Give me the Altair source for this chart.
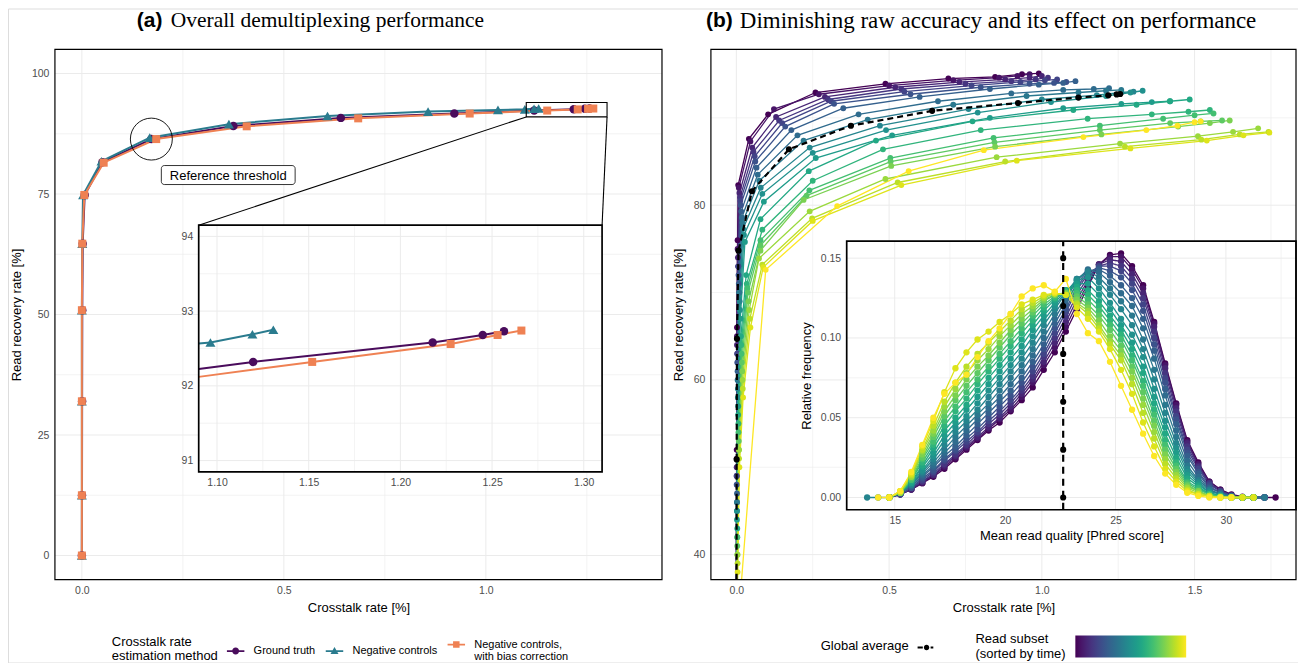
import altair as alt
import pandas as pd

SANS = "Liberation Sans"
SERIF = "Liberation Serif"

# ================= panel (a): overall demultiplexing performance =================
METHODS = ["Ground truth", "Negative controls", "Negative controls, with bias correction"]
METHOD_COLORS = ["#4A0C5C", "#2A7B8E", "#EF8153"]

gt_x = [0.0, 0.0003, 0.0006, 0.001, 0.002, 0.007, 0.051, 0.172, 0.375, 0.641, 0.922, 1.1197, 1.2176, 1.2449, 1.2565]
gt_y = [0.0, 12.5, 32.0, 50.9, 64.7, 74.8, 81.6, 86.4, 89.1, 90.8, 91.7, 92.32, 92.58, 92.68, 92.73]
nc_x = [0.0, 0.0, 0.0, 0.0, 0.001, 0.003, 0.0486, 0.168, 0.364, 0.608, 0.857, 1.03, 1.0964, 1.1193, 1.1307]
nc_y = [0.0, 12.5, 32.0, 50.9, 64.7, 74.8, 81.8, 86.7, 89.5, 91.2, 92.1, 92.45, 92.58, 92.69, 92.75]
bc_x = [0.0, 0.0, 0.0, 0.0, 0.001, 0.006, 0.054, 0.184, 0.408, 0.684, 0.960, 1.1519, 1.2274, 1.253, 1.266]
bc_y = [0.0, 12.5, 32.0, 50.9, 64.7, 74.8, 81.5, 86.4, 89.05, 90.7, 91.7, 92.32, 92.56, 92.68, 92.74]
REF_INDEX = 7
REF_LABEL = "Reference threshold"
ZOOM_X = [1.10, 1.30]
ZOOM_Y = [91.0, 94.0]

# ================= panel (b): per read subset =================
s01_x = [0, 0, 0, 0.001, 0.002, 0.004, 0.006, 0.041, 0.104, 0.259, 0.488, 0.694, 0.847, 0.935, 0.990]
s01_y = [0, 13, 33, 52, 66, 76, 82.3, 87.6, 90.4, 92.9, 93.9, 94.5, 94.7, 95.0, 95.1]
s02_x = [0, 0, 0, 0.001, 0.002, 0.004, 0.008, 0.046, 0.123, 0.270, 0.500, 0.710, 0.860, 0.920, 0.960]
s02_y = [0, 12, 32, 51, 65, 75, 82.0, 87.3, 91.0, 92.7, 93.7, 94.3, 94.6, 94.8, 95.0]
s03_x = [0, 0, 0, 0.001, 0.002, 0.005, 0.010, 0.052, 0.130, 0.290, 0.520, 0.730, 0.880, 0.960, 1.000]
s03_y = [0, 12, 31, 50, 64, 74, 81.4, 86.6, 90.1, 92.4, 93.5, 94.1, 94.4, 94.6, 94.8]
s04_x = [0, 0, 0, 0.001, 0.003, 0.006, 0.012, 0.056, 0.140, 0.300, 0.540, 0.750, 0.900, 0.980, 1.020]
s04_y = [0, 12, 30, 49, 63, 73, 80.9, 86.1, 89.7, 92.1, 93.3, 93.9, 94.2, 94.4, 94.6]
s05_x = [0, 0, 0, 0.001, 0.003, 0.006, 0.013, 0.060, 0.150, 0.310, 0.550, 0.770, 0.930, 1.010, 1.050]
s05_y = [0, 12, 30, 49, 63, 73, 80.5, 85.6, 89.4, 91.9, 93.0, 93.7, 94.1, 94.3, 94.4]
s06_x = [0, 0, 0, 0.001, 0.003, 0.007, 0.014, 0.062, 0.160, 0.320, 0.570, 0.800, 0.960, 1.040, 1.080]
s06_y = [0, 11, 29, 48, 62, 72, 80.0, 85.0, 89.0, 91.6, 92.7, 93.5, 93.9, 94.0, 94.1]
s07_x = [0, 0, 0, 0.002, 0.004, 0.008, 0.016, 0.066, 0.180, 0.350, 0.600, 0.830, 0.990, 1.070, 1.110]
s07_y = [0, 11, 29, 47, 61, 71, 79.3, 84.3, 88.6, 91.1, 92.4, 93.3, 93.8, 94.0, 94.2]
s08_x = [0, 0, 0, 0.002, 0.004, 0.009, 0.018, 0.070, 0.200, 0.400, 0.660, 0.900, 1.070, 1.170, 1.220]
s08_y = [0, 11, 28, 46, 60, 70, 78.6, 83.5, 88.0, 90.4, 91.9, 92.8, 93.2, 93.3, 93.4]
s09_x = [0, 0, 0, 0.002, 0.005, 0.010, 0.020, 0.075, 0.220, 0.430, 0.710, 0.950, 1.120, 1.210, 1.260]
s09_y = [0, 10, 28, 46, 60, 70, 78.0, 82.8, 87.4, 89.8, 91.5, 92.5, 92.9, 93.1, 93.2]
s10_x = [0, 0, 0, 0.002, 0.005, 0.011, 0.022, 0.080, 0.240, 0.470, 0.760, 1.000, 1.180, 1.260, 1.300]
s10_y = [0, 10, 27, 45, 59, 69, 77.3, 82.0, 86.6, 89.1, 91.0, 92.1, 92.6, 92.9, 93.0]
s11_x = [0, 0, 0, 0.002, 0.005, 0.012, 0.025, 0.085, 0.250, 0.490, 0.790, 1.030, 1.210, 1.290, 1.330]
s11_y = [0, 10, 27, 45, 58, 68, 76.6, 81.3, 86.0, 88.6, 90.6, 91.8, 92.5, 92.9, 93.1]
s12_x = [0, 0, 0, 0.002, 0.006, 0.013, 0.028, 0.090, 0.260, 0.510, 0.830, 1.070, 1.260, 1.360, 1.420]
s12_y = [0, 10, 26, 44, 57, 67, 75.8, 80.4, 85.4, 88.0, 90.0, 91.1, 91.6, 91.8, 91.9]
s13_x = [0, 0, 0, 0.003, 0.006, 0.015, 0.032, 0.079, 0.237, 0.457, 0.773, 1.103, 1.310, 1.419, 1.484]
s13_y = [0, 9, 25, 43, 56, 65, 72.0, 78.4, 83.9, 87.4, 89.6, 90.9, 91.5, 91.9, 92.1]
s14_x = [0, 0, 0, 0.003, 0.007, 0.016, 0.034, 0.085, 0.250, 0.480, 0.800, 1.150, 1.360, 1.480, 1.550]
s14_y = [0, 9, 24, 42, 55, 64, 71.0, 77.2, 82.8, 86.4, 88.6, 89.9, 90.4, 90.7, 90.9]
s15_x = [0, 0, 0, 0.003, 0.007, 0.017, 0.036, 0.079, 0.239, 0.504, 0.842, 1.190, 1.397, 1.500, 1.562]
s15_y = [0, 9, 24, 42, 54, 63, 70.5, 76.0, 81.7, 85.4, 87.7, 89.1, 89.9, 90.3, 90.5]
s16_x = [0, 0, 0, 0.003, 0.008, 0.018, 0.038, 0.079, 0.230, 0.505, 0.845, 1.190, 1.420, 1.520, 1.590]
s16_y = [0, 8, 23, 41, 53, 62, 70.0, 75.4, 81.1, 85.0, 87.2, 88.6, 89.4, 89.6, 89.7]
s17_x = [0, 0, 0, 0.003, 0.008, 0.019, 0.040, 0.079, 0.220, 0.507, 0.847, 1.195, 1.446, 1.550, 1.615]
s17_y = [0, 8, 23, 40, 52, 61, 69.0, 74.8, 80.6, 84.5, 86.7, 88.1, 89.0, 89.4, 89.7]
s18_x = [0, 0, 0, 0.004, 0.009, 0.020, 0.042, 0.074, 0.240, 0.488, 0.852, 1.256, 1.511, 1.626, 1.708]
s18_y = [0, 8, 22, 40, 52, 60, 68.0, 73.9, 79.3, 83.0, 85.5, 87.05, 87.9, 88.4, 88.8]
s19_x = [0, 0, 0, 0.004, 0.009, 0.021, 0.044, 0.085, 0.248, 0.528, 0.880, 1.272, 1.522, 1.648, 1.742]
s19_y = [0, 7, 21, 39, 51, 59, 67.0, 73.2, 78.5, 82.6, 85.0, 86.7, 87.5, 88.1, 88.4]
s20_x = [0, 0, 0, 0.004, 0.010, 0.022, 0.046, 0.088, 0.250, 0.540, 0.918, 1.290, 1.540, 1.660, 1.745]
s20_y = [0, 7, 21, 38, 50, 58, 66.0, 72.9, 78.2, 82.3, 85.1, 86.5, 87.4, 88.0, 88.3]
s21_x = [0, 0.001, 0.002, 0.004, 0.006, 0.008, 0.096, 0.330, 0.564, 0.810, 1.136, 1.342, 1.444, 1.500, 1.520]
s21_y = [0, 6, 14, 22, 28, 33, 72.6, 79.9, 83.9, 86.3, 87.8, 88.6, 89.1, 89.5, 89.6]

# inset (b): read-quality histograms (bin centres, Phred)
QBINS = [13.75, 14.25, 14.75, 15.25, 15.75, 16.25, 16.75, 17.25, 17.75, 18.25, 18.75, 19.25, 19.75,
         20.25, 20.75, 21.25, 21.75, 22.25, 22.75, 23.25, 23.75, 24.25, 24.75, 25.25, 25.75, 26.25,
         26.75, 27.25, 27.75, 28.25, 28.75, 29.25, 29.75, 30.25, 30.75, 31.25, 31.75, 32.25]
q01 = [.002, .005, .009, .013, .018, .024, .030, .036, .042, .047, .054, .061, .069, .080, .091, .104, .118, .132, .146, .152, .153, .145, .133, .110, .084, .059, .036, .022, .010, .005, .002, .0005, 0, 0, 0]
q02 = [0, .002, .005, .009, .014, .019, .025, .031, .037, .043, .049, .055, .063, .072, .083, .094, .107, .121, .134, .146, .151, .151, .143, .131, .109, .083, .058, .035, .021, .010, .005, .0015, 0, 0, 0]
q03 = [0, .002, .005, .010, .014, .020, .026, .032, .038, .044, .050, .057, .065, .074, .085, .097, .110, .124, .136, .146, .149, .148, .140, .128, .107, .081, .056, .034, .020, .009, .004, .0015, 0, 0, 0]
q04 = [0, .002, .006, .010, .015, .021, .027, .033, .040, .046, .052, .059, .067, .076, .088, .100, .113, .127, .138, .145, .147, .145, .137, .125, .104, .078, .054, .032, .019, .009, .004, .001, 0, 0, 0]
q05 = [0, .002, .006, .011, .016, .023, .029, .035, .041, .048, .054, .061, .069, .079, .090, .103, .116, .130, .140, .145, .145, .142, .134, .121, .100, .075, .051, .030, .018, .008, .004, .001, 0, 0, 0]
q06 = [0, .002, .006, .012, .017, .024, .030, .037, .043, .050, .057, .064, .072, .082, .093, .106, .118, .132, .141, .144, .142, .138, .130, .117, .096, .072, .049, .028, .016, .007, .003, .001, 0, 0, 0]
q07 = [0, .003, .007, .013, .019, .026, .032, .039, .046, .053, .060, .067, .075, .085, .096, .109, .121, .134, .142, .143, .139, .133, .125, .112, .092, .068, .046, .026, .015, .006, .003, .001, 0, 0, 0]
q08 = [0, .003, .007, .014, .020, .028, .035, .042, .049, .056, .063, .071, .079, .089, .100, .112, .124, .136, .143, .141, .135, .128, .120, .106, .087, .064, .042, .023, .013, .005, .002, .0005, 0, 0, 0]
q09 = [0, .003, .008, .015, .022, .030, .038, .045, .052, .059, .067, .075, .083, .093, .104, .115, .126, .137, .142, .138, .131, .123, .114, .099, .080, .058, .038, .020, .011, .005, .002, .0005, 0, 0, 0]
q10 = [0, 0, 0, .003, .008, .016, .024, .033, .041, .048, .055, .063, .071, .079, .087, .097, .108, .118, .128, .137, .141, .135, .127, .118, .108, .093, .074, .053, .034, .018, .010, .004, .002, .0005, 0, 0]
q11 = [0, .003, .009, .017, .026, .036, .044, .051, .059, .067, .075, .083, .091, .101, .111, .120, .129, .136, .138, .131, .122, .112, .102, .088, .068, .048, .031, .016, .009, .003, .001, 0, 0, 0]
q12 = [0, .003, .009, .019, .028, .039, .047, .055, .063, .071, .079, .087, .095, .105, .114, .122, .130, .134, .134, .127, .118, .108, .097, .082, .063, .044, .028, .014, .008, .003, .001, 0, 0, 0]
q13 = [0, .003, .010, .020, .031, .042, .050, .058, .067, .075, .083, .091, .099, .108, .117, .124, .130, .132, .130, .123, .114, .105, .093, .078, .059, .040, .025, .012, .007, .002, .001, 0, 0, 0]
q14 = [0, .003, .011, .022, .033, .045, .054, .062, .071, .079, .087, .095, .103, .111, .119, .125, .129, .130, .127, .120, .111, .102, .089, .073, .055, .036, .022, .010, .006, .002, .001, 0, 0, 0]
q15 = [0, .003, .011, .024, .035, .048, .057, .066, .074, .082, .090, .098, .106, .114, .121, .126, .129, .128, .124, .117, .108, .099, .086, .070, .052, .033, .020, .009, .005, .002, .0005, 0, 0, 0]
q16 = [0, .003, .012, .025, .038, .051, .061, .070, .078, .086, .094, .102, .109, .116, .123, .127, .128, .126, .121, .114, .105, .095, .082, .066, .048, .030, .018, .008, .004, .001, .0005, 0, 0, 0]
q17 = [0, .003, .013, .027, .040, .054, .064, .074, .082, .089, .097, .105, .112, .118, .124, .127, .128, .124, .119, .111, .101, .092, .079, .062, .045, .027, .016, .007, .004, .001, 0, 0, 0, 0]
q18 = [0, .003, .013, .029, .042, .057, .068, .078, .086, .093, .101, .108, .115, .120, .125, .128, .127, .122, .117, .108, .098, .089, .075, .058, .041, .024, .014, .006, .003, .001, 0, 0, 0, 0]
q19 = [0, .004, .014, .030, .045, .060, .072, .082, .090, .097, .104, .111, .118, .122, .126, .128, .127, .121, .115, .106, .096, .086, .071, .053, .037, .021, .012, .005, .002, .001, 0, 0, 0, 0]
q20 = [0, .004, .015, .032, .048, .066, .081, .091, .099, .104, .110, .115, .121, .124, .127, .128, .127, .119, .112, .104, .093, .080, .065, .047, .032, .018, .010, .004, .002, .0005, 0, 0, 0, 0]
q21 = [0, 0, .004, .016, .033, .050, .065, .072, .077, .088, .098, .106, .115, .126, .131, .133, .129, .137, .115, .103, .098, .085, .070, .055, .040, .026, .015, .008, .003, .001, 0, 0, 0]
Q_START = [15.25, 14.75, 14.75, 14.75, 14.75, 14.75, 14.75, 14.75, 14.75, 13.75, 14.75,
           14.75, 14.75, 14.75, 14.75, 14.75, 14.75, 14.75, 14.75, 14.75, 14.25]
GA_QUALITY = 22.63
GA_QUALITY_MARKS = [0.0, 0.03, 0.06, 0.09, 0.12, 0.15]

# tick values (major / minor grid)
A_XT, A_XM = [0.0, 0.5, 1.0], [0.25, 0.75, 1.25]
A_YT, A_YM = [0, 25, 50, 75, 100], [12.5, 37.5, 62.5, 87.5]
AI_XT, AI_XM = [1.10, 1.15, 1.20, 1.25, 1.30], [1.125, 1.175, 1.225, 1.275]
AI_YT, AI_YM = [91, 92, 93, 94], [91.5, 92.5, 93.5]
B_XT, B_XM = [0.0, 0.5, 1.0, 1.5], [0.25, 0.75, 1.25, 1.75]
B_YT, B_YM = [40, 60, 80], [50, 70, 90]
BI_XT, BI_XM = [15, 20, 25, 30], [17.5, 22.5, 27.5, 32.5]
BI_YT, BI_YM = [0.0, 0.05, 0.10, 0.15], [0.025, 0.075, 0.125]

# ================= layout (pixels inside the canvas) =================
W, H = 1292, 655


def panel(x0, x1, y0, y1, xd, yd):
    return dict(x0=x0, x1=x1, y0=y0, y1=y1, xd=xd, yd=yd)


PA = panel(47, 655, 41, 572, [-0.0667, 1.436], [-5.0, 105.0])
PAI = panel(191, 595, 217, 464, [1.09, 1.31], [90.85, 94.15])
PB = panel(704, 1290, 41, 572, [-0.0833, 1.832], [37.14, 97.83])
PBI = panel(840, 1290, 233, 502, [12.825, 33.175], [-0.00765, 0.16065])
GRID = "#EBEBEB"


def sx(P):
    return alt.Scale(domain=P["xd"], range=[P["x0"], P["x1"]], nice=False, zero=False)


def sy(P):
    return alt.Scale(domain=P["yd"], range=[P["y1"], P["y0"]], nice=False, zero=False)


def XY(P, xf="x", yf="y"):
    return dict(x=alt.X(f"{xf}:Q", scale=sx(P), axis=None), y=alt.Y(f"{yf}:Q", scale=sy(P), axis=None))


AX = dict(grid=False, domain=False, ticks=False, labelPadding=6, labelFontSize=10.5, labelColor="#4D4D4D",
          labelFont=SANS, titleFont=SANS, titleFontSize=13, titleColor="black", titleFontWeight="normal",
          labelFlush=False, labelOverlap=False)


def x_axis(P, values, fmt, title, tpad=4, z=0):
    return alt.Axis(orient="bottom", offset=P["y1"] - H, values=values, format=fmt, title=title,
                    titlePadding=tpad, zindex=z, **AX)


def y_axis(P, values, fmt, title, tpad=6, z=0):
    return alt.Axis(orient="left", offset=-P["x0"], values=values, format=fmt, title=title,
                    titlePadding=tpad, zindex=z, **AX)


def grid(P, xt, xm, yt, ym, xax, yax):
    out = []
    for vals, w, ax in [(xt, 1.0, xax), (xm, 0.6, None)]:
        d = pd.DataFrame({"v": vals, "a": P["yd"][0], "b": P["yd"][1]})
        out.append(alt.Chart(d).mark_rule(color=GRID, strokeWidth=w).encode(
            x=alt.X("v:Q", scale=sx(P), axis=ax), y=alt.Y("a:Q", scale=sy(P), axis=None), y2="b:Q"))
    for vals, w, ax in [(yt, 1.0, yax), (ym, 0.6, None)]:
        d = pd.DataFrame({"v": vals, "a": P["xd"][0], "b": P["xd"][1]})
        out.append(alt.Chart(d).mark_rule(color=GRID, strokeWidth=w).encode(
            y=alt.Y("v:Q", scale=sy(P), axis=ax), x=alt.X("a:Q", scale=sx(P), axis=None), x2="b:Q"))
    return out


def frame(P, fill=None, stroke=None, sw=1.0):
    d = pd.DataFrame({"a": [P["xd"][0]], "b": [P["xd"][1]], "c": [P["yd"][0]], "e": [P["yd"][1]]})
    if fill:
        mk = alt.Chart(d).mark_rect(color=fill, strokeWidth=0)
    else:
        mk = alt.Chart(d).mark_rect(fillOpacity=0, stroke=stroke, strokeWidth=sw)
    return mk.encode(x=alt.X("a:Q", scale=sx(P), axis=None), x2="b:Q",
                     y=alt.Y("c:Q", scale=sy(P), axis=None), y2="e:Q")


def clip(xs_, ys_, lo, k):
    pts = list(zip(xs_, ys_))
    out = []
    for j, p in enumerate(pts):
        v = p[k]
        if j > 0:
            q = pts[j - 1]
            u = q[k]
            if (u < lo) != (v < lo):
                t = (lo - u) / (v - u)
                out.append((q[0] + t * (p[0] - q[0]), q[1] + t * (p[1] - q[1]), False))
        if v >= lo:
            out.append((p[0], p[1], True))
    return out


def inv_x(P, px):
    return P["xd"][0] + (px - P["x0"]) / (P["x1"] - P["x0"]) * (P["xd"][1] - P["xd"][0])


def inv_y(P, py):
    return P["yd"][0] + (P["y1"] - py) / (P["y1"] - P["y0"]) * (P["yd"][1] - P["yd"][0])


SHAPES = ["circle", "triangle-up", "square"]
SIZES = [72, 100, 64]
A_SERIES = [(gt_x, gt_y), (nc_x, nc_y), (bc_x, bc_y)]

# ---- panel (a) main
rows = []
for m, (xs_, ys_) in zip(METHODS, A_SERIES):
    for i, (a, b) in enumerate(zip(xs_, ys_)):
        rows.append(dict(method=m, x=a, y=b, i=i))
dfa = pd.DataFrame(rows)
col_a = alt.Color("method:N", scale=alt.Scale(domain=METHODS, range=METHOD_COLORS), legend=None)

L = []
L += grid(PA, A_XT, A_XM, A_YT, A_YM,
          x_axis(PA, A_XT, ".1f", "Crosstalk rate [%]", 5), y_axis(PA, A_YT, "d", "Read recovery rate [%]", 8))
L.append(alt.Chart(dfa).mark_line(strokeWidth=2).encode(**XY(PA), color=col_a, order="i:Q"))
for m, c, s, z in zip(METHODS, METHOD_COLORS, SHAPES, SIZES):
    L.append(alt.Chart(dfa[dfa.method == m]).mark_point(filled=True, opacity=1, shape=s, size=z, color=c)
             .encode(**XY(PA)))

# zoom box + connectors + reference threshold
dz = pd.DataFrame({"a": [ZOOM_X[0]], "b": [ZOOM_X[1]], "c": [ZOOM_Y[0]], "e": [ZOOM_Y[1]]})
L.append(alt.Chart(dz).mark_rect(fillOpacity=0, stroke="black", strokeWidth=1.1).encode(
    x=alt.X("a:Q", scale=sx(PA), axis=None), x2="b:Q", y=alt.Y("c:Q", scale=sy(PA), axis=None), y2="e:Q"))
dcon = pd.DataFrame({"x": [ZOOM_X[0], ZOOM_X[1]], "y": [ZOOM_Y[0], ZOOM_Y[0]],
                     "x2": [inv_x(PA, PAI["x0"]), inv_x(PA, PAI["x1"])],
                     "y2": [inv_y(PA, PAI["y0"]), inv_y(PA, PAI["y0"])]})
L.append(alt.Chart(dcon).mark_rule(color="black", strokeWidth=1.1).encode(**XY(PA), x2="x2:Q", y2="y2:Q"))
dref = pd.DataFrame({"x": [gt_x[REF_INDEX]], "y": [gt_y[REF_INDEX]], "t": [REF_LABEL]})
L.append(alt.Chart(dref).mark_point(shape="circle", size=1764, filled=False, stroke="black",
                                    strokeWidth=0.9, opacity=1).encode(**XY(PA)))
BOX = ("M-0.955,-0.142H0.955A0.045,0.045 0 0,1 1,-0.097V0.097A0.045,0.045 0 0,1 0.955,0.142"
       "H-0.955A0.045,0.045 0 0,1 -1,0.097V-0.097A0.045,0.045 0 0,1 -0.955,-0.142Z")
L.append(alt.Chart(dref).mark_point(shape=BOX, size=17956, filled=True, fill="white", stroke="black",
                                    strokeWidth=0.8, opacity=1, xOffset=77, yOffset=36).encode(**XY(PA)))
L.append(alt.Chart(dref).mark_text(font=SANS, fontSize=13, color="black", dx=77, dy=36.5).encode(
    **XY(PA), text="t:N"))

# ---- inset (a)
rows_l, rows_p = [], []
for m, (xs_, ys_) in zip(METHODS, A_SERIES):
    for i, (a, b, real) in enumerate(clip(xs_, ys_, PAI["xd"][0], 0)):
        rows_l.append(dict(method=m, x=a, y=b, i=i))
        if real:
            rows_p.append(dict(method=m, x=a, y=b))
dfai, dfaip = pd.DataFrame(rows_l), pd.DataFrame(rows_p)
L.append(frame(PAI, fill="white"))
L += grid(PAI, AI_XT, AI_XM, AI_YT, AI_YM,
          x_axis(PAI, AI_XT, ".2f", None, z=1), y_axis(PAI, AI_YT, "d", None, z=1))
L.append(alt.Chart(dfai).mark_line(strokeWidth=2).encode(**XY(PAI), color=col_a, order="i:Q"))
for m, c, s, z in zip(METHODS, METHOD_COLORS, SHAPES, SIZES):
    L.append(alt.Chart(dfaip[dfaip.method == m]).mark_point(filled=True, opacity=1, shape=s, size=z, color=c)
             .encode(**XY(PAI)))
L.append(frame(PAI, stroke="black", sw=1.7))
L.append(frame(PA, stroke="black", sw=1.2))

# ---- panel (b) main
B_CURVES = [(s01_x, s01_y), (s02_x, s02_y), (s03_x, s03_y), (s04_x, s04_y), (s05_x, s05_y),
            (s06_x, s06_y), (s07_x, s07_y), (s08_x, s08_y), (s09_x, s09_y), (s10_x, s10_y),
            (s11_x, s11_y), (s12_x, s12_y), (s13_x, s13_y), (s14_x, s14_y), (s15_x, s15_y),
            (s16_x, s16_y), (s17_x, s17_y), (s18_x, s18_y), (s19_x, s19_y), (s20_x, s20_y),
            (s21_x, s21_y)]
rows_l, rows_p = [], []
for k, (xs_, ys_) in enumerate(B_CURVES, start=1):
    for i, (a, b, real) in enumerate(clip(xs_, ys_, PB["yd"][0], 1)):
        rows_l.append(dict(subset=k, x=a, y=b, i=i))
        if real:
            rows_p.append(dict(subset=k, x=a, y=b))
dfb, dfbp = pd.DataFrame(rows_l), pd.DataFrame(rows_p)
ga_l, ga_p = [], []
for i, (a, b, real) in enumerate(clip(gt_x, gt_y, PB["yd"][0], 1)):
    ga_l.append(dict(x=a, y=b, i=i))
    if real:
        ga_p.append(dict(x=a, y=b))
dga, dgap = pd.DataFrame(ga_l), pd.DataFrame(ga_p)

leg_grad = alt.Legend(title=["Read subset", "(sorted by time)"], orient="none", legendX=969, legendY=628,
                      direction="horizontal", gradientLength=111, gradientThickness=22, gradientStrokeWidth=0,
                      titleOrient="left", titlePadding=9, labelExpr="''", labelFontSize=1, padding=0,
                      titleFont=SANS, titleFontSize=13, titleFontWeight="normal", titleColor="black",
                      titleLineHeight=16)


def col_b(leg=None):
    return alt.Color("subset:Q", scale=alt.Scale(domain=[1, 21], scheme="viridis"), legend=leg)


L += grid(PB, B_XT, B_XM, B_YT, B_YM,
          x_axis(PB, B_XT, ".1f", "Crosstalk rate [%]", 5), y_axis(PB, B_YT, "d", "Read recovery rate [%]", 8))
L.append(alt.Chart(dfb).mark_line(strokeWidth=1.3).encode(**XY(PB), color=col_b(leg_grad),
                                                           detail="subset:N", order="i:Q"))
L.append(alt.Chart(dfbp).mark_point(filled=True, opacity=1, size=34).encode(**XY(PB), color=col_b()))
L.append(alt.Chart(dga).mark_line(color="black", strokeWidth=2.2, strokeDash=[6, 4]).encode(**XY(PB), order="i:Q"))
L.append(alt.Chart(dgap).mark_point(filled=True, opacity=1, size=38, color="black").encode(**XY(PB)))

# ---- inset (b)
Q_LISTS = [q01, q02, q03, q04, q05, q06, q07, q08, q09, q10, q11, q12, q13, q14, q15, q16, q17, q18,
           q19, q20, q21]
rows = []
for k, (vals, st) in enumerate(zip(Q_LISTS, Q_START), start=1):
    j0 = QBINS.index(st)
    for j, v in enumerate(vals):
        rows.append(dict(subset=k, x=QBINS[j0 + j], y=v))
dfq = pd.DataFrame(rows)
L.append(frame(PBI, fill="white"))
L += grid(PBI, BI_XT, BI_XM, BI_YT, BI_YM,
          x_axis(PBI, BI_XT, "d", "Mean read quality [Phred score]", 3, z=1),
          y_axis(PBI, BI_YT, ".2f", "Relative frequency", 7, z=1))
L.append(alt.Chart(dfq).mark_line(strokeWidth=1.3).encode(**XY(PBI), color=col_b(), detail="subset:N"))
L.append(alt.Chart(dfq).mark_point(filled=True, opacity=1, size=40).encode(**XY(PBI), color=col_b()))
dgq = pd.DataFrame({"x": [GA_QUALITY], "a": [PBI["yd"][0]], "b": [PBI["yd"][1]]})
L.append(alt.Chart(dgq).mark_rule(color="black", strokeWidth=2.2, strokeDash=[7, 5]).encode(
    x=alt.X("x:Q", scale=sx(PBI), axis=None), y=alt.Y("a:Q", scale=sy(PBI), axis=None), y2="b:Q"))
dgqp = pd.DataFrame({"x": [GA_QUALITY] * len(GA_QUALITY_MARKS), "y": GA_QUALITY_MARKS})
L.append(alt.Chart(dgqp).mark_point(filled=True, opacity=1, size=38, color="black").encode(**XY(PBI)))
L.append(frame(PBI, stroke="black", sw=1.7))
L.append(frame(PB, stroke="black", sw=1.2))

# ---- legends (legend-only layers, no marks drawn)
LEG_CIRCLE = "M-1,-0.1H1V0.1H-1Z M0.4,0A0.4,0.4 0 1,1 -0.4,0A0.4,0.4 0 1,1 0.4,0Z"
LEG_TRI = "M-1,-0.1H1V0.1H-1Z M0,-0.46L0.46,0.34L-0.46,0.34Z"
LEG_SQ = "M-1,-0.1H1V0.1H-1Z M-0.37,-0.37H0.37V0.37H-0.37Z"
LEG_GA = ("M-1,-0.11H-0.42V0.11H-1Z M0.45,-0.11H0.75V0.11H0.45Z "
          "M0.3,0A0.3,0.3 0 1,1 -0.3,0A0.3,0.3 0 1,1 0.3,0Z")
LABEL_EXPR = ("datum.label == 'Negative controls, with bias correction' ? "
              "['Negative controls,', 'with bias correction'] : datum.label")


def legend_a():
    return alt.Legend(title=["Crosstalk rate", "estimation method"], orient="none", legendX=104, legendY=628,
                      direction="horizontal", titleOrient="left", symbolSize=306, symbolOpacity=1,
                      symbolStrokeWidth=0, labelFont=SANS, labelFontSize=11, labelColor="black",
                      labelExpr=LABEL_EXPR, titleFont=SANS, titleFontSize=13, titleFontWeight="normal",
                      titleColor="black", titleLineHeight=15, columnPadding=10, labelOffset=9,
                      titlePadding=8, padding=0)


dleg = pd.DataFrame({"method": METHODS, "x": [0.0] * 3, "y": [0.0] * 3})
L.append(alt.Chart(dleg).transform_filter("false").mark_point(filled=True, opacity=1).encode(
    **XY(PA),
    color=alt.Color("method:N", scale=alt.Scale(domain=METHODS, range=METHOD_COLORS), legend=legend_a()),
    shape=alt.Shape("method:N", scale=alt.Scale(domain=METHODS, range=[LEG_CIRCLE, LEG_TRI, LEG_SQ]),
                    legend=legend_a())))


def legend_ga():
    return alt.Legend(title="Global average", orient="none", legendX=814, legendY=631, direction="horizontal",
                      titleOrient="left", symbolSize=324, symbolOpacity=1, symbolStrokeWidth=0,
                      labelExpr="''", titleFont=SANS, titleFontSize=13, titleFontWeight="normal",
                      titleColor="black", titlePadding=8, padding=0)


dga_leg = pd.DataFrame({"g": ["Global average"], "x": [0.0], "y": [50.0]})
L.append(alt.Chart(dga_leg).transform_filter("false").mark_point(filled=True, opacity=1).encode(
    **XY(PB),
    color=alt.Color("g:N", scale=alt.Scale(domain=["Global average"], range=["black"]), legend=legend_ga()),
    shape=alt.Shape("g:N", scale=alt.Scale(domain=["Global average"], range=[LEG_GA]), legend=legend_ga())))

# ---- panel titles
TITLES = [("(a)", SANS, "bold", 21, 129), ("Overall demultiplexing performance", SERIF, "normal", 21.5, 163),
          ("(b)", SANS, "bold", 21, 699),
          ("Diminishing raw accuracy and its effect on performance", SERIF, "normal", 23, 733)]
for txt, fnt, wt, fs, px in TITLES:
    L.append(alt.Chart(pd.DataFrame({"t": [txt]})).mark_text(
        align="left", baseline="middle", font=fnt, fontWeight=wt, fontSize=fs, color="black").encode(
        text="t:N", x=alt.value(px), y=alt.value(12.5)))

chart = (alt.layer(*L)
         .resolve_scale(x="independent", y="independent", color="independent", shape="independent")
         .properties(width=W, height=H, autosize=alt.AutoSizeParams(type="none"), padding=0)
         .configure_view(strokeWidth=0)
         .configure(font=SANS))

chart.save("out.html", embed_options={"renderer": "svg", "actions": False})
